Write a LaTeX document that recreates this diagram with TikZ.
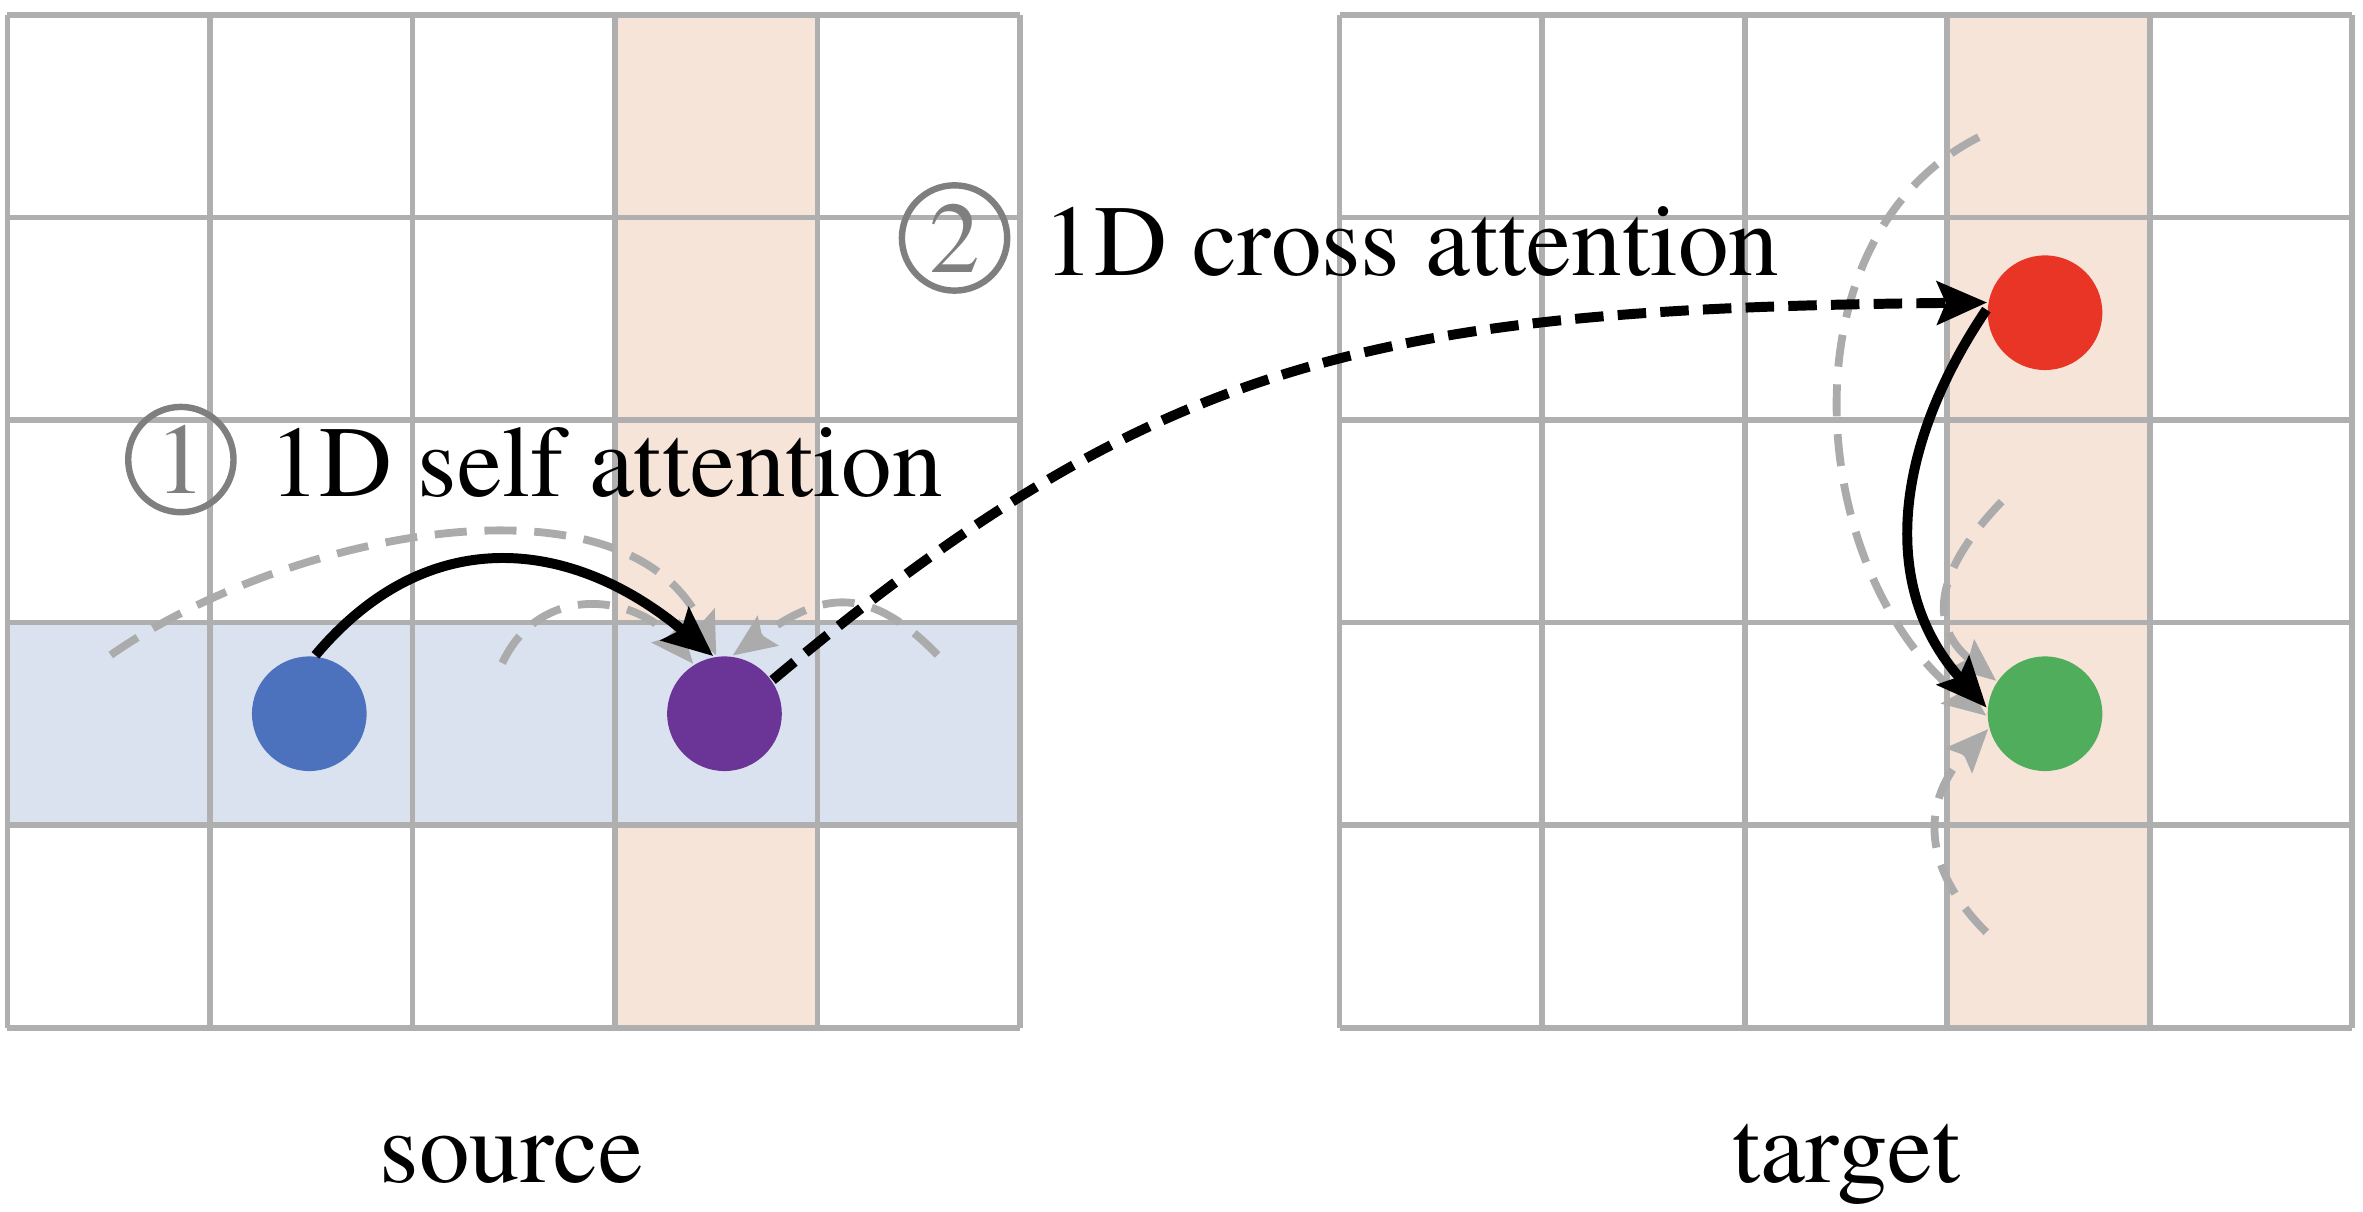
\documentclass[tikz,border=0pt]{standalone}
\usepackage[T1]{fontenc}
\usepackage{mathptmx}
\usetikzlibrary{positioning, arrows.meta}

\definecolor{gridgray}{HTML}{B0AFB0}
\definecolor{colfill}{HTML}{F7E4D8}
\definecolor{rowfill}{HTML}{DAE2F0}
\definecolor{dotblue}{HTML}{4C72BE}
\definecolor{dotpurple}{HTML}{6A3597}
\definecolor{dotred}{HTML}{E83526}
\definecolor{dotgreen}{HTML}{50AD5C}
\definecolor{arcgray}{HTML}{ABABAB}
\definecolor{numgray}{HTML}{7F7F7F}

\begin{document}
\begin{tikzpicture}
  % 样式
  \tikzset{dot/.style = {circle, minimum size=0.566cm, inner sep=0pt}}
  \tikzset{gridline/.style = {draw=gridgray, line width=0.8pt}}
  \tikzset{selfarr/.style = {draw, line width=1.4pt, -{Stealth[length=7pt,width=6pt,inset=1.2pt]}}}
  \tikzset{crossarr/.style = {selfarr, dash pattern=on 4pt off 2pt}}
  \tikzset{grayarr/.style = {draw=arcgray, line width=1.1pt, dash pattern=on 4.5pt off 2.5pt, -{Stealth[length=6pt,width=5pt,inset=1pt]}}}
  \tikzset{lbl/.style = {font=\fontsize{14.2}{17}\selectfont, inner sep=0pt}}
  \tikzset{num/.style = {circle, draw=numgray, line width=0.9pt, text=numgray, minimum size=0.52cm, inner sep=0pt}}

  \useasboundingbox (-0.037,-0.908) rectangle (11.63,5.074);

  % 网格
  \fill[colfill] (3,0) rectangle (4,5);
  \fill[rowfill] (0,1) rectangle (5,2);
  \draw[gridline] (0,0) grid (5,5);
  \begin{scope}[xshift=6.577cm]
    \fill[colfill] (3,0) rectangle (4,5);
    \draw[gridline] (0,0) grid (5,5);
  \end{scope}

  % 点
  \node[dot, fill=dotblue] (s1) at (1.49,1.55) {};
  \node[dot, fill=dotpurple] (s2) at (3.54,1.55) {};
  \node[dot, fill=dotred] (t1) at (10.06,3.53) {};
  \node[dot, fill=dotgreen] (t2) at (10.06,1.55) {};

  % 文字
  \node[lbl, num] (n1) at (0.856,2.805) {1};
  \node[lbl, anchor=base west] (selfl) at (1.285,2.622) {1D self attention};
  \node[lbl, num] (n2) at (4.676,3.899) {2};
  \node[lbl, anchor=base west] (crossl) at (5.11,3.713) {1D cross attention};
  \node[lbl, anchor=base] (srcl) at (2.49,-0.766) {source};
  \node[lbl, anchor=base] (tgtl) at (9.08,-0.766) {target};

  % 灰色虚线
  \coordinate (a1) at (0.51,1.84);
  \coordinate (a2) at (2.443,1.80);
  \coordinate (a3) at (4.592,1.84);
  \draw[grayarr] (a1) to[out=35,in=115,looseness=0.9] (s2.98);
  \draw[grayarr] (a2) to[out=65,in=130,looseness=1.2] (s2.122);
  \draw[grayarr] (a3) to[out=134,in=35,looseness=1.3] (s2.82);

  \coordinate (b1) at (9.733,4.397);
  \coordinate (b2) at (9.846,2.597);
  \coordinate (b3) at (9.77,0.471);
  \draw[grayarr] (b1) to[out=207,in=142] (t2.182);
  \draw[grayarr] (b2) to[out=226,in=141,looseness=1.3] (t2.146);
  \draw[grayarr] (b3) to[out=135,in=227,looseness=1.2] (t2.195);

  % 黑色箭头
  \draw[selfarr] (s1.84) to[out=50,in=140,looseness=1.15] (s2.101);
  \draw[selfarr] (t1.177) to[out=236,in=132,looseness=1.05] (t2.174);
  \draw[crossarr] (s2.35) .. controls +(40:2.5) and +(-3,-0.03) .. (t1.170);
\end{tikzpicture}
\end{document}
